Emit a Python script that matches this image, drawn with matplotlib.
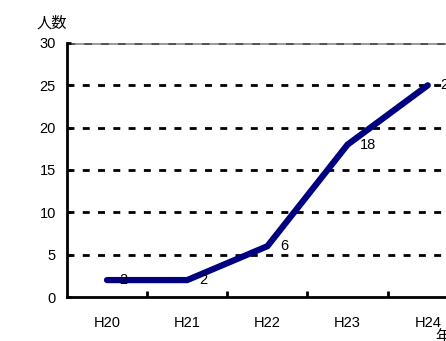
import matplotlib
matplotlib.use("Agg")
from matplotlib import pyplot as plt

plt.rcParams['font.family'] = ['Noto Sans CJK JP', 'DejaVu Sans']

years = ["H20", "H21", "H22", "H23", "H24"]
people = [2, 2, 6, 18, 25]
y_ticks = [0, 5, 10, 15, 20, 25, 30]

fig = plt.figure(figsize=(4.46, 3.41), dpi=100)
ax = fig.add_axes([0.150, 0.129, 0.899, 0.745])

x = list(range(len(years)))

# grid lines
for v in y_ticks[1:-1]:
    ax.axhline(v, color="black", lw=2, ls=(0, (2.5, 3)), zorder=1)
ax.axhline(30, color="#9a9a9a", lw=2.8, zorder=1)
ax.axhline(30, color="#555555", lw=2.2, ls=(0, (2.5, 3)), zorder=1)

ax.plot(x, people, color="#000080", lw=4.5, solid_capstyle="round",
        solid_joinstyle="miter", zorder=3)

for xi, v in zip(x, people):
    ax.annotate(str(v), (xi, v), xytext=(9, 0), textcoords="offset points",
                ha="left", va="center", fontsize=10.5, family="Liberation Sans")

ax.set_xlim(-0.5, 4.5)
ax.set_ylim(0, 30)
ax.set_yticks(y_ticks)
ax.set_xticks(x)
ax.set_xticklabels(years, family="Liberation Sans")
ax.set_xticks([0.5, 1.5, 2.5, 3.5], minor=True)
ax.tick_params(axis="x", which="major", length=0, pad=14, labelsize=10.5)
ax.tick_params(axis="x", which="minor", direction="in", length=4, width=2)
ax.tick_params(axis="y", direction="in", length=3, width=2, labelsize=10.5, pad=8)
for lab in ax.get_yticklabels():
    lab.set_family("Liberation Sans")

for s in ["top", "right"]:
    ax.spines[s].set_visible(False)
ax.spines["left"].set_linewidth(2)
ax.spines["bottom"].set_linewidth(2)

fig.text(37 / 446, 1 - 23 / 341, "人数", fontsize=11, ha="left", va="center")
fig.text(435 / 446, 1 - 336 / 341, "年", fontsize=11, ha="left", va="center")

fig.savefig("out.png", dpi=100)
